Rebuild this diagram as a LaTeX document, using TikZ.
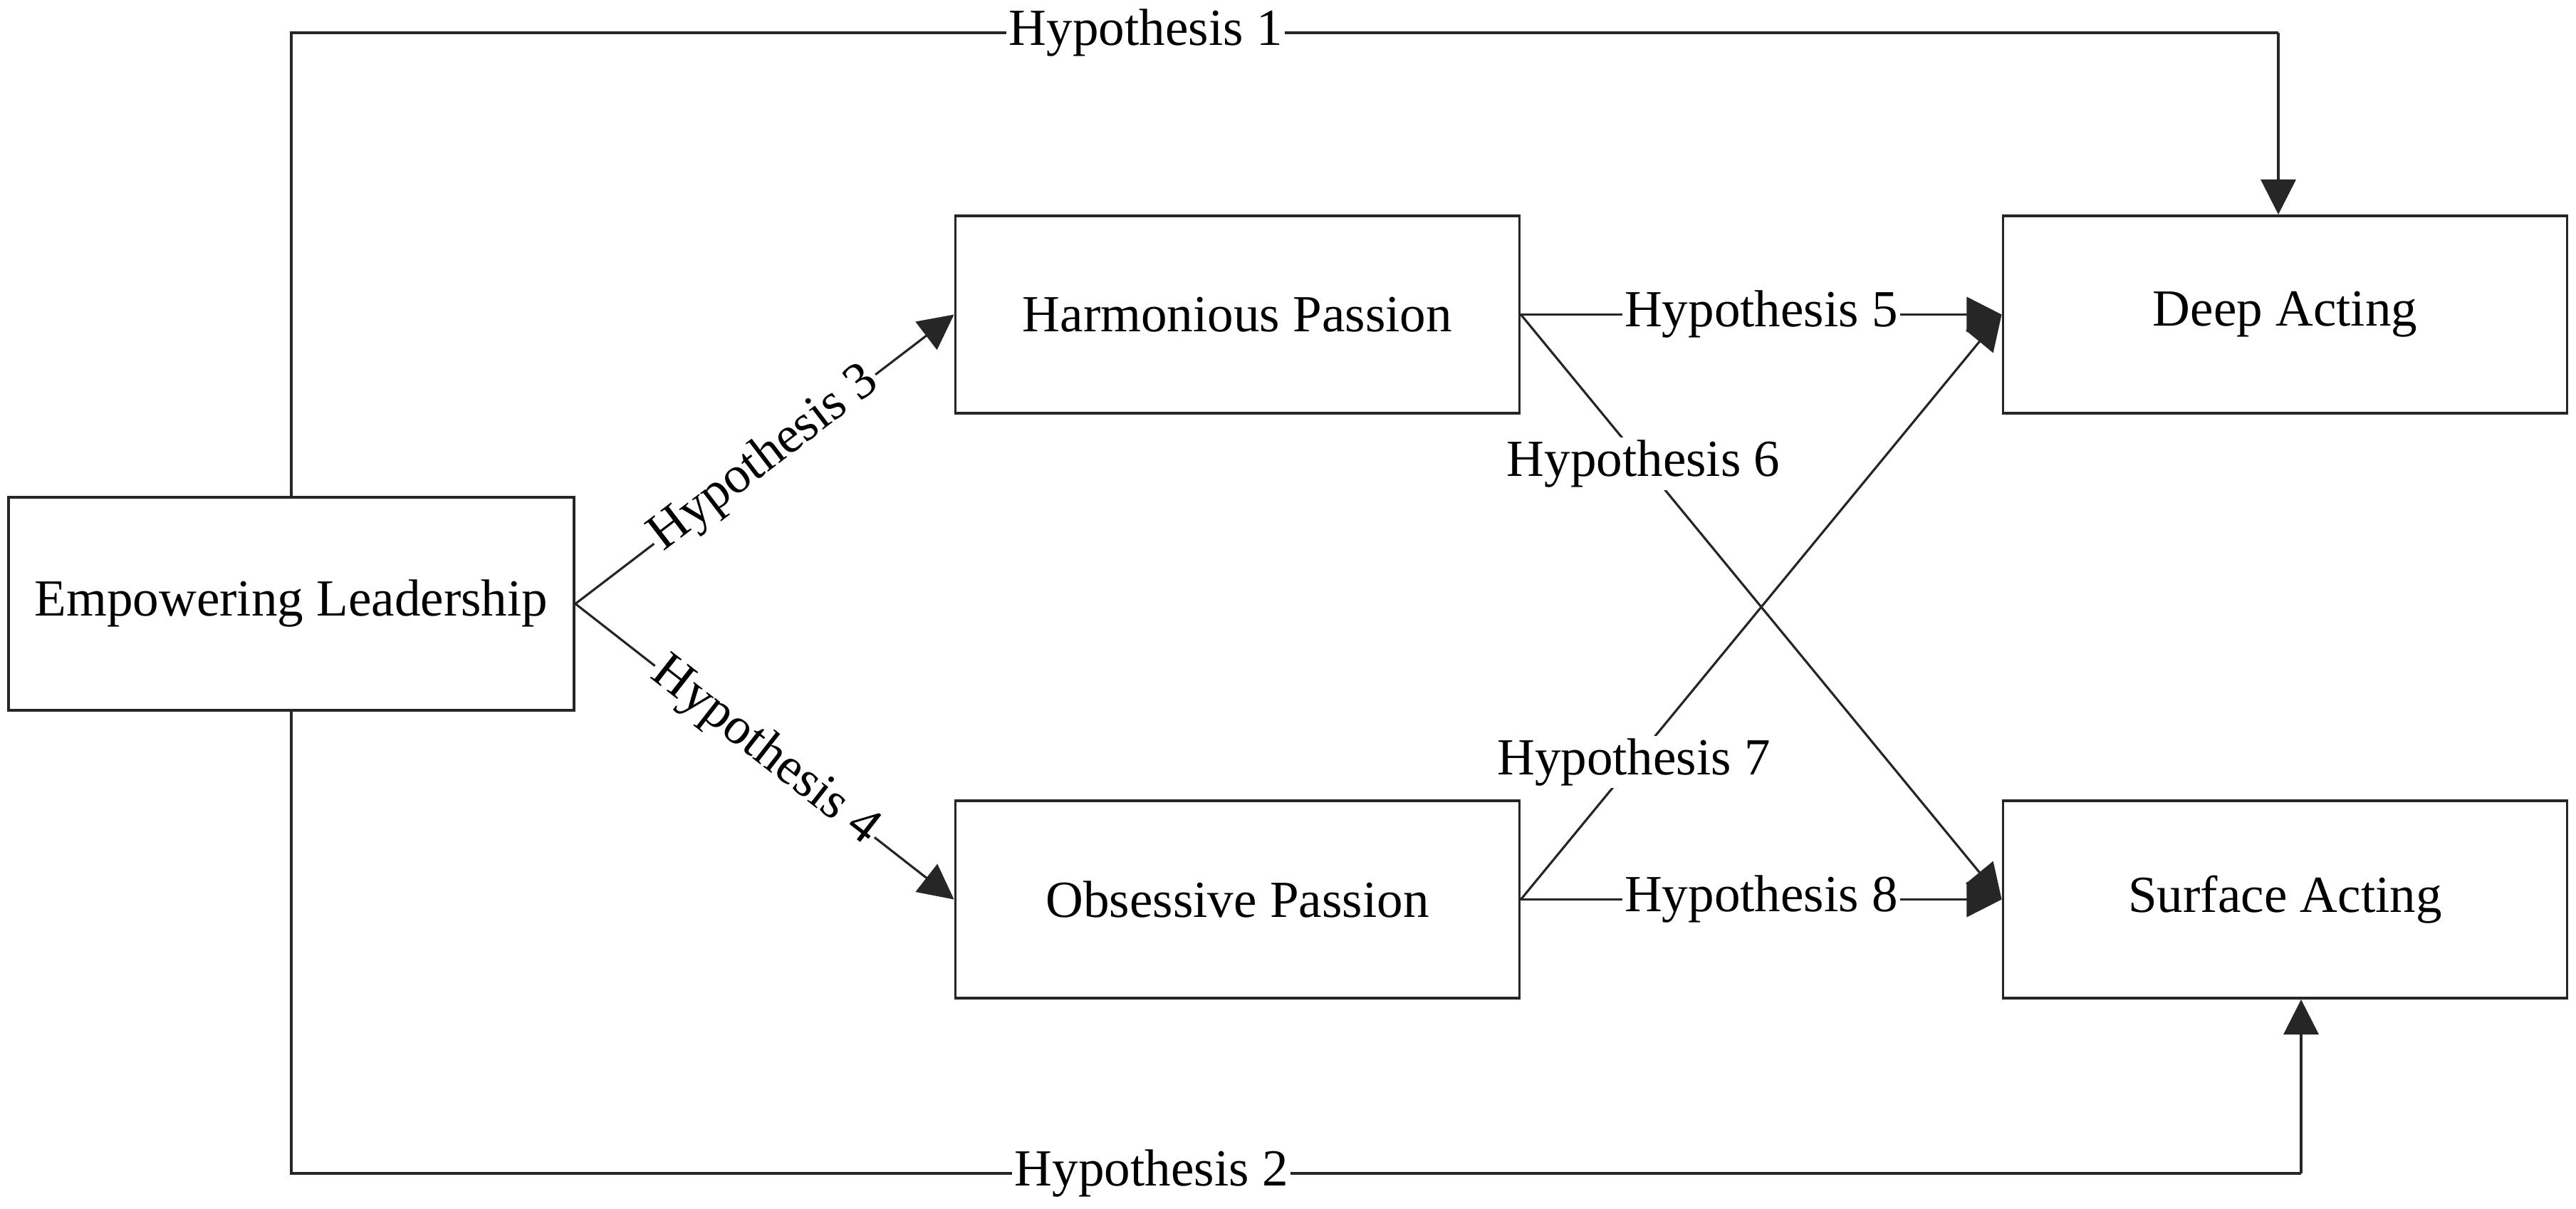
\documentclass[tikz,border=0pt]{standalone}
\usepackage{fontspec}
\setmainfont{Liberation Serif}
\usetikzlibrary{arrows.meta, positioning}

\begin{document}
\begin{tikzpicture}
\tikzset{
  box/.style={draw=black!85, line width=1.1pt, rectangle, minimum width=7.92cm, minimum height=2.77cm, inner sep=0pt, font=\fontsize{20.8}{25}\selectfont},
  link/.style={draw=black!85, line width=0.9pt},
  arr/.style={link, -{Triangle[length=14pt,width=14pt]}},
  hyp/.style={fill=white, inner sep=1pt, font=\fontsize{20.8}{25}\selectfont}
}
\useasboundingbox (0,0) rectangle (36.17,16.96);

\node[box, minimum width=7.94cm, minimum height=2.99cm] (el) at (4.09,8.485) {Empowering Leadership};
\node[box] (hp) at (17.375,12.545) {Harmonious Passion};
\node[box] (op) at (17.375,4.335) {Obsessive Passion};
\node[box] (da) at (32.085,12.545) {Deep Acting};
\node[box] (sa) at (32.085,4.335) {Surface Acting};

\coordinate (topL) at (4.09,16.50);
\coordinate (topR) at (31.99,16.50);
\coordinate (botL) at (4.09,0.49);
\coordinate (botR) at (32.31,0.49);

\draw[link] (el) -- (topL) -- node[hyp,pos=0.43] {Hypothesis 1} (topR);
\draw[arr] (topR) -- (topR |- da.north);
\draw[link] (el) -- (botL) -- node[hyp,pos=0.428] {Hypothesis 2} (botR);
\draw[arr] (botR) -- (botR |- sa.south);

\draw[arr] (el.east) -- node[hyp,sloped] {Hypothesis 3} (hp.west);
\draw[arr] (el.east) -- node[hyp,sloped] {Hypothesis 4} (op.west);
\draw[arr] (hp.east) -- node[hyp] {Hypothesis 5} (da.west);
\draw[arr] (hp.east) -- node[hyp,pos=0.255] {Hypothesis 6} (sa.west);
\draw[arr] (op.east) -- node[hyp,pos=0.235] {Hypothesis 7} (da.west);
\draw[arr] (op.east) -- node[hyp] {Hypothesis 8} (sa.west);
\end{tikzpicture}
\end{document}
